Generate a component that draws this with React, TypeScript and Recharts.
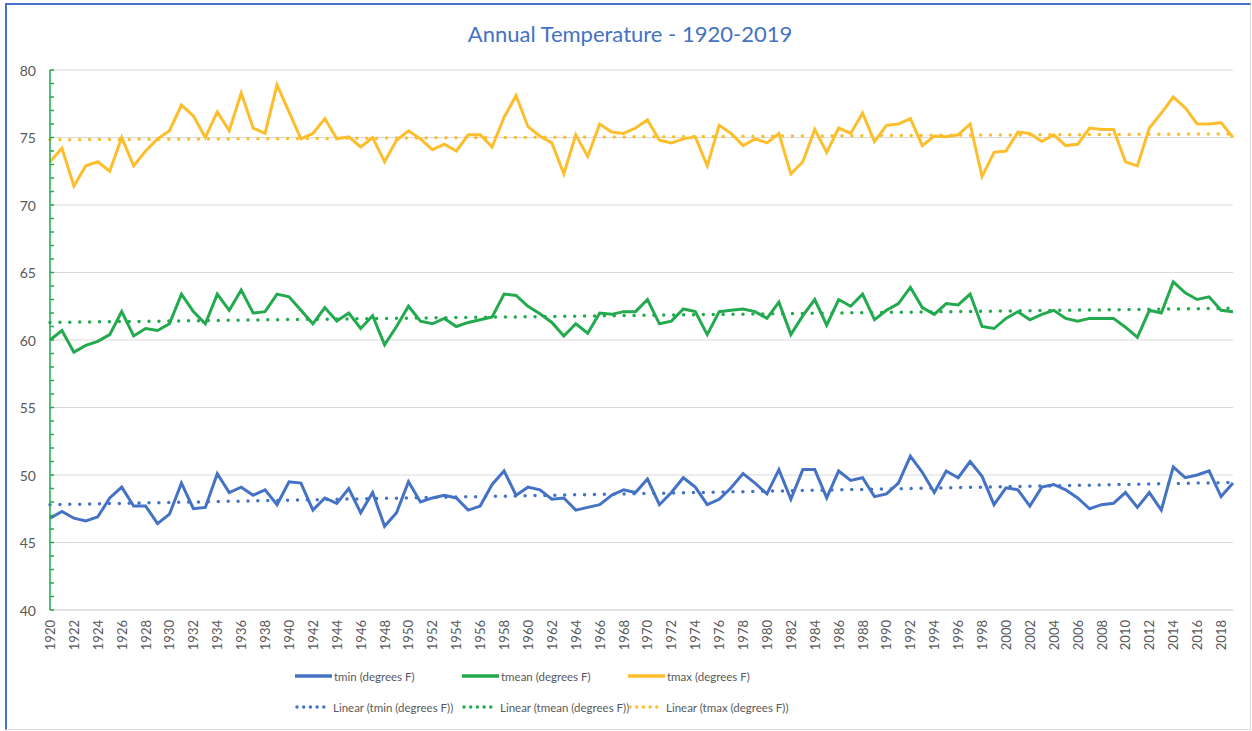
import * as React from 'react';
import { CartesianGrid, Legend, Line, LineChart, XAxis, YAxis } from 'recharts';

const years = Array.from({ length: 100 }, (_, i) => 1920 + i);

const tmin = [
  46.8, 47.3, 46.8, 46.6, 46.9, 48.3, 49.1, 47.7, 47.7, 46.4,
  47.1, 49.4, 47.5, 47.6, 50.1, 48.7, 49.1, 48.5, 48.9, 47.8,
  49.5, 49.4, 47.4, 48.3, 47.9, 49.0, 47.2, 48.7, 46.2, 47.2,
  49.5, 48.0, 48.3, 48.5, 48.3, 47.4, 47.7, 49.3, 50.3, 48.5,
  49.1, 48.9, 48.2, 48.3, 47.4, 47.6, 47.8, 48.5, 48.9, 48.7,
  49.7, 47.8, 48.7, 49.8, 49.1, 47.8, 48.2, 49.05, 50.1, 49.4,
  48.6, 50.4, 48.2, 50.4, 50.4, 48.3, 50.3, 49.6, 49.8, 48.4,
  48.6, 49.4, 51.4, 50.2, 48.7, 50.3, 49.8, 51.0, 49.9, 47.8,
  49.05, 48.9, 47.7, 49.1, 49.3, 48.9, 48.3, 47.5, 47.8, 47.9,
  48.7, 47.6, 48.7, 47.4, 50.6, 49.8, 50.0, 50.3, 48.4, 49.4,
];

const tmean = [
  60.0, 60.7, 59.1, 59.6, 59.9, 60.4, 62.1, 60.3, 60.85, 60.7,
  61.2, 63.4, 62.1, 61.2, 63.4, 62.2, 63.7, 62.0, 62.1, 63.4,
  63.2, 62.2, 61.2, 62.4, 61.4, 62.0, 60.85, 61.8, 59.65, 61.0,
  62.5, 61.4, 61.2, 61.6, 61.0, 61.3, 61.5, 61.7, 63.4, 63.3,
  62.5, 61.95, 61.3, 60.3, 61.2, 60.5, 62.0, 61.9, 62.1, 62.1,
  63.0, 61.2, 61.4, 62.3, 62.1, 60.4, 62.1, 62.2, 62.3, 62.1,
  61.6, 62.8, 60.4, 61.8, 63.0, 61.1, 63.0, 62.5, 63.4, 61.5,
  62.2, 62.7, 63.9, 62.4, 61.9, 62.7, 62.6, 63.4, 61.0, 60.85,
  61.6, 62.1, 61.5, 61.9, 62.2, 61.6, 61.4, 61.6, 61.6, 61.6,
  60.95, 60.2, 62.2, 62.0, 64.3, 63.5, 63.0, 63.2, 62.2, 62.1,
];

const tmax = [
  73.2, 74.2, 71.4, 72.9, 73.2, 72.5, 75.0, 72.9, 74.0, 74.9,
  75.5, 77.4, 76.6, 75.0, 76.9, 75.5, 78.3, 75.7, 75.3, 78.9,
  76.9, 74.9, 75.3, 76.4, 74.9, 75.05, 74.3, 75.0, 73.2, 74.8,
  75.5, 74.9, 74.1, 74.5, 74.0, 75.2, 75.2, 74.3, 76.5, 78.1,
  75.8, 75.1, 74.6, 72.3, 75.2, 73.6, 76.0, 75.4, 75.3, 75.7,
  76.3, 74.8, 74.6, 74.9, 75.05, 72.9, 75.9, 75.3, 74.4, 74.9,
  74.6, 75.3, 72.3, 73.2, 75.6, 73.9, 75.7, 75.3, 76.8, 74.7,
  75.9, 76.0, 76.4, 74.4, 75.1, 75.05, 75.2, 76.0, 72.1, 73.9,
  74.0, 75.4, 75.3, 74.7, 75.2, 74.4, 74.5, 75.7, 75.6, 75.6,
  73.2, 72.9, 75.7, 76.8, 78.0, 77.2, 76.0, 76.0, 76.1, 75.0,
];

// trend line ends (first year, last year)
const tminTrend = [47.8, 49.45];
const tmeanTrend = [61.3, 62.35];
const tmaxTrend = [74.83, 75.27];

const majorTicks = [40, 45, 50, 55, 60, 65, 70, 75, 80];
const minorTicks = Array.from({ length: 41 }, (_, i) => 40 + i);

const BLUE = '#4472C4';
const GREEN = '#23A94E';
const GOLD = '#FDBE2D';
const TEXT = '#595959';
const FONT = 'Lato, "Open Sans", sans-serif';

const data = years.map((year, i) => ({
  year,
  tmin: tmin[i],
  tmean: tmean[i],
  tmax: tmax[i],
  tminTrend: i === 0 ? tminTrend[0] : i === years.length - 1 ? tminTrend[1] : null,
  tmeanTrend: i === 0 ? tmeanTrend[0] : i === years.length - 1 ? tmeanTrend[1] : null,
  tmaxTrend: i === 0 ? tmaxTrend[0] : i === years.length - 1 ? tmaxTrend[1] : null,
}));

const legendRows = [
  [
    { label: 'tmin (degrees F)', color: BLUE, dotted: false },
    { label: 'tmean (degrees F)', color: GREEN, dotted: false },
    { label: 'tmax (degrees F)', color: GOLD, dotted: false },
  ],
  [
    { label: 'Linear (tmin (degrees F))', color: BLUE, dotted: true },
    { label: 'Linear (tmean (degrees F))', color: GREEN, dotted: true },
    { label: 'Linear (tmax (degrees F))', color: GOLD, dotted: true },
  ],
];
const legendCols = [295, 462, 628];

const YTick = (props: any) => {
  const { x, y, payload } = props;
  const major = payload.value % 5 === 0;
  return (
    <g>
      <line x1={x + 14} x2={x + 18} y1={y} y2={y} stroke={GREEN} strokeWidth={1.5} />
      {major && (
        <text x={x} y={y} textAnchor="end" dominantBaseline="central" fill={TEXT} fontSize={14} fontFamily={FONT}>
          {payload.value}
        </text>
      )}
    </g>
  );
};

const XTick = (props: any) => {
  const { x, y, payload } = props;
  return (
    <text
      x={x}
      y={y}
      transform={`rotate(-90, ${x}, ${y})`}
      textAnchor="end"
      dominantBaseline="central"
      fill={TEXT}
      fontSize={13}
      fontFamily={FONT}
    >
      {payload.value}
    </text>
  );
};

const LegendContent = () => (
  <div style={{ position: 'relative', width: 1252, height: 60, fontFamily: FONT, fontSize: 11.5, color: TEXT }}>
    {legendRows.map((row, r) =>
      row.map((item, c) => (
        <div
          key={`${r}-${c}`}
          style={{
            position: 'absolute',
            left: legendCols[c],
            top: r === 0 ? 8 : 39,
            height: 16,
            display: 'flex',
            alignItems: 'center',
            whiteSpace: 'nowrap',
          }}
        >
          <svg width={38} height={8} style={{ marginRight: item.dotted ? 0 : 1 }}>
            {item.dotted ? (
              <line x1={2} x2={30} y1={4} y2={4} stroke={item.color} strokeWidth={3.5} strokeLinecap="round" strokeDasharray="0 6.7" />
            ) : (
              <line x1={0} x2={37} y1={4} y2={4} stroke={item.color} strokeWidth={3.5} />
            )}
          </svg>
          <span>{item.label}</span>
        </div>
      ))
    )}
  </div>
);

export default function App() {
  return (
    <div style={{ position: 'absolute', left: 0, top: 0, width: 1252, height: 731, background: '#fff' }}>
      <div
        style={{
          position: 'absolute',
          left: 5,
          top: 3,
          width: 1246,
          height: 727,
          boxSizing: 'border-box',
          borderTop: `2px solid ${BLUE}`,
          borderLeft: `2px solid ${BLUE}`,
          borderRight: '1px solid #d9d9d9',
          borderBottom: '1px solid #d9d9d9',
        }}
      />
      <div
        style={{
          position: 'absolute',
          left: 0,
          width: 1260,
          top: 20,
          textAlign: 'center',
          fontFamily: FONT,
          fontSize: 22,
          color: BLUE,
        }}
      >
        Annual Temperature - 1920-2019
      </div>
      <div style={{ position: 'absolute', left: 0, top: 0 }}>
        <LineChart width={1252} height={731} data={data} margin={{ top: 70, right: 19, left: 0, bottom: 11 }}>
          <CartesianGrid vertical={false} stroke="#d9d9d9" horizontalValues={majorTicks} />
          <XAxis
            dataKey="year"
            height={50}
            interval={1}
            tickLine={false}
            tickSize={0}
            tickMargin={10}
            axisLine={{ stroke: '#d9d9d9' }}
            tick={<XTick />}
          />
          <YAxis
            width={50}
            domain={[40, 80]}
            ticks={minorTicks}
            interval={0}
            tickLine={false}
            tickSize={0}
            tickMargin={14}
            axisLine={{ stroke: GREEN, strokeWidth: 1.5 }}
            tick={<YTick />}
          />
          <Line type="linear" dataKey="tmin" stroke={BLUE} strokeWidth={3} dot={false} isAnimationActive={false} />
          <Line type="linear" dataKey="tmean" stroke={GREEN} strokeWidth={3} dot={false} isAnimationActive={false} />
          <Line type="linear" dataKey="tmax" stroke={GOLD} strokeWidth={3} dot={false} isAnimationActive={false} />
          <Line type="linear" dataKey="tminTrend" stroke={BLUE} strokeWidth={3.5} strokeLinecap="round" strokeDasharray="0 9.9" dot={false} connectNulls isAnimationActive={false} />
          <Line type="linear" dataKey="tmeanTrend" stroke={GREEN} strokeWidth={3.5} strokeLinecap="round" strokeDasharray="0 9.9" dot={false} connectNulls isAnimationActive={false} />
          <Line type="linear" dataKey="tmaxTrend" stroke={GOLD} strokeWidth={3.5} strokeLinecap="round" strokeDasharray="0 9.9" dot={false} connectNulls isAnimationActive={false} />
          <Legend verticalAlign="bottom" content={<LegendContent />} wrapperStyle={{ left: 0, width: 1252, height: 60 }} />
        </LineChart>
      </div>
    </div>
  );
}
